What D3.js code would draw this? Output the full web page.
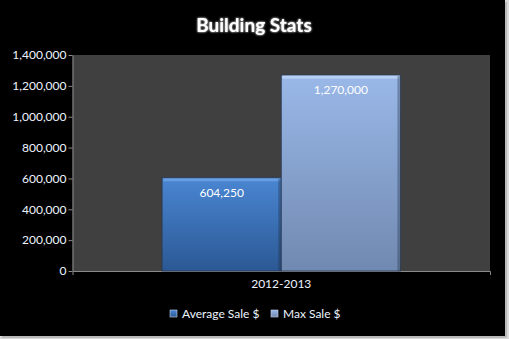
<!DOCTYPE html>
<html><head><meta charset="utf-8">
<script src="https://cdn.jsdelivr.net/npm/d3@7"></script>
<style>html,body{margin:0;padding:0;background:#e8e8e8;overflow:hidden}</style>
</head><body>
<svg id="c" width="509" height="339"></svg>
<script>
const title = "Building Stats";
const categories = ["2012-2013"];
const seriesNames = ["Average Sale $", "Max Sale $"];
const averageSale = [604250];
const maxSale = [1270000];
const yTicks = [0, 200000, 400000, 600000, 800000, 1000000, 1200000, 1400000];

const series = [
  {name: seriesNames[0], values: averageSale, grad: "gA", top: "#4a86d2", bot: "#2b5894", edge: "#7fb0ee"},
  {name: seriesNames[1], values: maxSale, grad: "gB", top: "#9ab8e8", bot: "#7089b0", edge: "#d4e6ff"}
];

const svg = d3.select("#c");
const W = 509, H = 339;
const defs = svg.append("defs");
series.forEach(s => {
  const g = defs.append("linearGradient").attr("id", s.grad).attr("x1",0).attr("y1",0).attr("x2",0).attr("y2",1);
  g.append("stop").attr("offset","0%").attr("stop-color", s.top);
  g.append("stop").attr("offset","100%").attr("stop-color", s.bot);
});
const glow = defs.append("filter").attr("id","glow").attr("x","-20%").attr("y","-50%").attr("width","140%").attr("height","200%");
glow.append("feGaussianBlur").attr("stdDeviation",0.8).attr("result","b");
const fm = glow.append("feMerge");
fm.append("feMergeNode").attr("in","b");
fm.append("feMergeNode").attr("in","SourceGraphic");

// frame
svg.append("rect").attr("x",0).attr("y",0).attr("width",W).attr("height",H).attr("fill","#d8d8d8");
svg.append("rect").attr("x",0).attr("y",0).attr("width",505).attr("height",336).attr("fill","#000");
svg.append("line").attr("x1",506).attr("x2",506).attr("y1",2).attr("y2",337).attr("stroke","#9a9a9a").attr("stroke-width",1);
svg.append("line").attr("x1",2).attr("x2",506).attr("y1",337).attr("y2",337).attr("stroke","#9a9a9a").attr("stroke-width",1);

const m = {l: 72.5, r: 490, t: 55, b: 271};
const x = d3.scaleBand().domain(categories).range([m.l, m.r]).paddingOuter(0.376).paddingInner(0);
const xs = d3.scaleBand().domain(seriesNames).range([0, x.bandwidth()]).padding(0);
const y = d3.scaleLinear().domain([0, 1400000]).range([m.b, m.t]);

// plot area
svg.append("rect").attr("x", m.l).attr("y", m.t).attr("width", m.r - m.l).attr("height", m.b - m.t).attr("fill", "#404040");

const font = "Lato, 'Open Sans', sans-serif";

// y axis
const yAxis = svg.append("g").attr("transform", `translate(${m.l},0)`)
  .call(d3.axisLeft(y).tickValues(yTicks).tickSize(4).tickSizeOuter(0).tickFormat(d3.format(",")));
yAxis.select(".domain").attr("stroke", "#8a8a8a");
yAxis.selectAll(".tick line").attr("stroke", "#8a8a8a");
yAxis.selectAll(".tick text").attr("fill", "#eef4ff").attr("font-family", font).attr("font-size", "12px").attr("x", -6);

// x axis
const xAxis = svg.append("g").attr("transform", `translate(0,${m.b})`)
  .call(d3.axisBottom(x).tickSize(0).tickSizeOuter(4));
xAxis.select(".domain").attr("stroke", "#8a8a8a");
xAxis.selectAll(".tick text").attr("fill", "#eef4ff").attr("font-family", font).attr("font-size", "12px").attr("dy", "1.2em");

// bars
categories.forEach((c, ci) => {
  series.forEach(s => {
    const bx = x(c) + xs(s.name), bw = xs.bandwidth();
    const v = s.values[ci];
    const by = y(v), bh = y(0) - y(v);
    svg.append("rect").attr("x", bx).attr("y", by).attr("width", bw).attr("height", bh)
      .attr("fill", `url(#${s.grad})`).attr("stroke", "#2a3a55").attr("stroke-width", 0.8);
    svg.append("rect").attr("x", bx + 1).attr("y", by + 0.5).attr("width", bw - 2).attr("height", 3)
      .attr("fill", s.edge).attr("opacity", 0.55);
    svg.append("rect").attr("x", bx + bw - 3).attr("y", by + 1).attr("width", 2.5).attr("height", bh - 1)
      .attr("fill", "#1d2a40").attr("opacity", 0.35);
    svg.append("text").attr("x", bx + bw / 2).attr("y", by + 19).attr("text-anchor", "middle")
      .attr("fill", "#ffffff").attr("font-family", font).attr("font-size", "12px")
      .text(d3.format(",")(v));
  });
});

// title
svg.append("text").attr("x", 254).attr("y", 32).attr("text-anchor", "middle")
  .attr("fill", "#ffffff").attr("font-family", font).attr("font-weight", "bold")
  .attr("font-size", "19px").attr("filter", "url(#glow)").text(title);

// legend
const legendX = [170, 271];
series.forEach((s, i) => {
  const g = svg.append("g").attr("transform", `translate(${legendX[i]},314)`);
  g.append("rect").attr("x", 0).attr("y", -4).attr("width", 7).attr("height", 7)
    .attr("fill", `url(#${s.grad})`).attr("stroke", "#c8d4e8").attr("stroke-width", 0.6);
  g.append("text").attr("x", 12).attr("y", 4).attr("fill", "#eef4ff")
    .attr("font-family", font).attr("font-size", "12px").text(s.name);
});
</script>
</body></html>
